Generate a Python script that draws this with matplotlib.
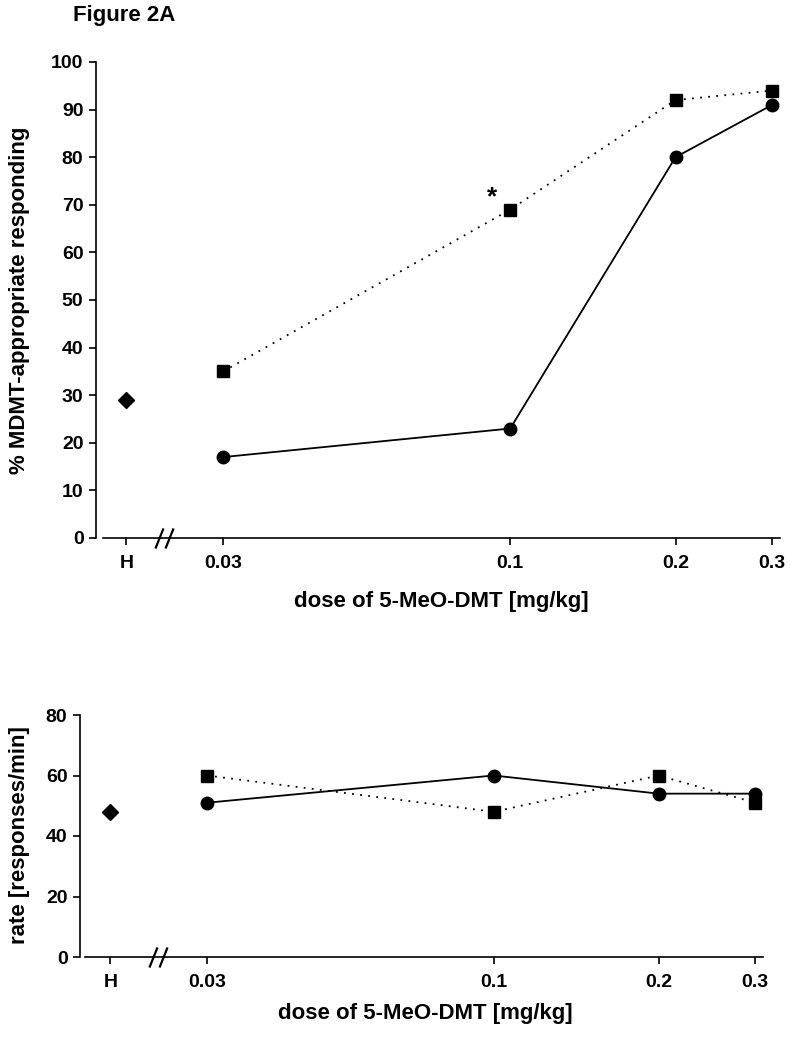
import numpy as np
import matplotlib
matplotlib.use("Agg")
import matplotlib.pyplot as plt
from matplotlib.path import Path

plt.rcParams["font.family"] = ["Liberation Sans", "DejaVu Sans"]
plt.rcParams["font.weight"] = "bold"

doses = [0.03, 0.1, 0.2, 0.3]
h_dose = 0.02
tick_pos = [0.02, 0.03, 0.1, 0.2, 0.3]
tick_labels = ["H", "0.03", "0.1", "0.2", "0.3"]

resp_circle = [17, 23, 80, 91]
resp_square = [35, 69, 92, 94]
resp_h = 29

rate_circle = [51, 60, 54, 54]
rate_square = [60, 48, 60, 51]
rate_h = 48

W, H = 796, 1038
fig = plt.figure(figsize=(W / 100, H / 100), dpi=100)

# two slanted strokes for the axis break
brk = Path([(-0.9, -1.0), (-0.1, 1.0), (0.1, -1.0), (0.9, 1.0)],
           [Path.MOVETO, Path.LINETO, Path.MOVETO, Path.LINETO])


def panel(rect, circ, sq, hval, ylim, yticks, spine_lo, brk_x):
    ax = fig.add_axes(rect)
    ax.set_xscale("log")
    ax.set_xlim(0.0176, 0.31)
    ax.set_ylim(*ylim)
    ax.plot(doses, sq, color="black", ls=(0, (1, 3.5)), lw=1.3,
            marker="s", ms=8.5, clip_on=False, zorder=3)
    ax.plot(doses, circ, color="black", ls="-", lw=1.3,
            marker="o", ms=9, clip_on=False, zorder=3)
    ax.plot([h_dose], [hval], color="black", marker="D", ms=8.5,
            ls="none", clip_on=False)
    for s in ["top", "right"]:
        ax.spines[s].set_visible(False)
    ax.spines["bottom"].set_bounds(spine_lo, 0.31)
    for s in ["left", "bottom"]:
        ax.spines[s].set_linewidth(1.2)
    ax.set_xticks(tick_pos)
    ax.set_xticklabels(tick_labels)
    ax.xaxis.set_minor_locator(matplotlib.ticker.NullLocator())
    ax.set_yticks(yticks)
    ax.tick_params(axis="both", labelsize=14, length=5, width=1.2, pad=4)
    ax.tick_params(axis="x", pad=7)
    ax.plot([brk_x], [0], marker=brk, ms=14.5, mew=1.6, color="black",
            ls="none", clip_on=False)
    return ax


# top panel
ax1 = panel([96 / W, 1 - 538 / H, 684 / W, 476 / H],
            resp_circle, resp_square, resp_h, (0, 100),
            range(0, 101, 10), 0.0181, 0.0234)
ax1.text(0.0925, 71.5, "*", fontsize=19, ha="center", va="center")

# bottom panel
ax2 = panel([80 / W, 1 - 957 / H, 683 / W, 242 / H],
            rate_circle, rate_square, rate_h, (0, 80),
            range(0, 81, 20), 0.0180, 0.0244)

fig.text(73 / W, 1 - 15 / H, "Figure 2A", fontsize=16, ha="left", va="center")
fig.text(441 / W, 1 - 601 / H, "dose of 5-MeO-DMT [mg/kg]", fontsize=16,
         ha="center", va="center")
fig.text(425 / W, 1 - 1013 / H, "dose of 5-MeO-DMT [mg/kg]", fontsize=16,
         ha="center", va="center")
fig.text(20 / W, 1 - 300 / H, "% MDMT-appropriate responding", fontsize=16,
         rotation=90, ha="center", va="center")
fig.text(20 / W, 1 - 835 / H, "rate [responses/min]", fontsize=16,
         rotation=90, ha="center", va="center")

fig.savefig("out.png", dpi=100)
